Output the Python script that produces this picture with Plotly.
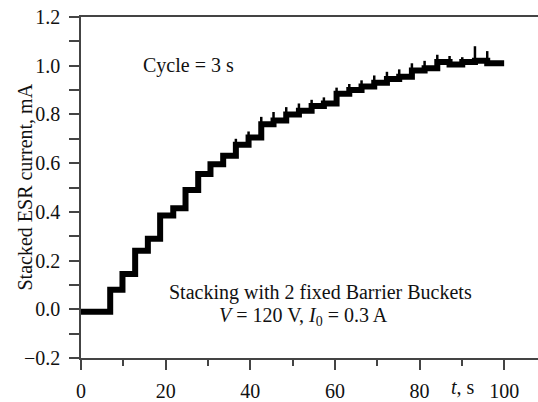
import plotly.graph_objects as go

# Step start times (s) and stacked current levels (mA)
step_t = [0, 6.9, 9.8, 12.8, 15.8, 18.7, 21.8, 24.7, 27.7, 30.6, 33.6, 36.6, 39.6,
          42.6, 45.5, 48.5, 51.5, 54.5, 57.4, 60.4, 63.4, 66.3, 69.3, 72.3, 75.2,
          78.2, 81.2, 84.2, 87.1, 90.1, 93.1, 96.0, 100.0]
step_i = [-0.01, 0.08, 0.145, 0.24, 0.29, 0.385, 0.415, 0.49, 0.555, 0.595, 0.63, 0.675, 0.705,
          0.76, 0.775, 0.80, 0.815, 0.835, 0.845, 0.885, 0.90, 0.915, 0.93, 0.945, 0.955,
          0.98, 0.99, 1.015, 1.005, 1.015, 1.02, 1.01, 1.01]

# Spikes at injection instants: time and peak value (mA)
spike_t = [36.6, 39.6, 42.6, 45.5, 48.5, 51.5, 54.5, 57.4, 60.4, 63.4, 66.3, 69.3,
           72.3, 75.2, 78.2, 81.2, 84.2, 87.1, 90.1, 93.1, 96.0]
spike_i = [0.70, 0.73, 0.79, 0.81, 0.83, 0.845, 0.86, 0.87, 0.91, 0.925, 0.94, 0.96,
           0.975, 0.985, 1.01, 1.02, 1.045, 1.04, 1.035, 1.08, 1.06]

x_ticks = [0, 20, 40, 60, 80, 100]
y_ticks = [-0.2, 0.0, 0.2, 0.4, 0.6, 0.8, 1.0, 1.2]

FONT = "Liberation Serif"
TXT = "#111111"
AX = "#444444"

fig = go.Figure()
fig.add_trace(go.Scatter(x=step_t, y=step_i, mode="lines", line=dict(color="black", width=6, shape="hv"),
                         hoverinfo="skip", showlegend=False))
sx, sy = [], []
for t, p in zip(spike_t, spike_i):
    lvl = step_i[step_t.index(t)]
    sx += [t, t, None]
    sy += [lvl, p, None]
fig.add_trace(go.Scatter(x=sx, y=sy, mode="lines", line=dict(color="black", width=2.5),
                         hoverinfo="skip", showlegend=False))

fig.update_layout(
    width=538, height=402,
    margin=dict(l=81, r=0, t=17, b=44),
    plot_bgcolor="white", paper_bgcolor="white",
    font=dict(family=FONT, size=20, color=TXT),
    xaxis=dict(range=[0, 108.0], tickvals=x_ticks, ticks="outside", ticklen=10, tickwidth=1.5,
               tickcolor=AX, showline=True, linecolor=AX, linewidth=1.5, mirror=True,
               showgrid=False, zeroline=False, ticklabelstandoff=4,
               minor=dict(tickvals=[10, 30, 50, 70, 90], ticks="outside", ticklen=6,
                          tickwidth=1.5, tickcolor=AX)),
    yaxis=dict(range=[-0.2, 1.2], tickvals=y_ticks, tickformat=".1f", ticks="outside", ticklen=10,
               tickwidth=1.5, tickcolor=AX, showline=True, linecolor=AX, linewidth=1.5,
               showgrid=False, zeroline=False, ticklabelstandoff=5,
               minor=dict(tickvals=[-0.1, 0.1, 0.3, 0.5, 0.7, 0.9, 1.1], ticks="outside",
                          ticklen=10, tickwidth=1.5, tickcolor=AX)),
)

ann = dict(showarrow=False, font=dict(family=FONT, size=20, color=TXT))
fig.add_annotation(text="Stacked ESR current, mA", textangle=-90, xref="paper", yref="paper",
                   x=-0.1247, y=0.5, xanchor="center", yanchor="middle", **ann)
fig.add_annotation(text="<i>t</i>, s", xref="x", yref="paper", x=90.3, y=-0.085,
                   xanchor="center", yanchor="middle", **ann)
fig.add_annotation(text="Cycle = 3 s", xref="x", yref="y", x=25.3, y=1.0,
                   xanchor="center", yanchor="middle", **ann)
fig.add_annotation(text="Stacking with 2 fixed Barrier Buckets", xref="x", yref="y", x=56.5, y=0.067,
                   xanchor="center", yanchor="middle", **ann)
fig.add_annotation(text="<i>V</i> = 120 V, <i>I</i><sub>0</sub> = 0.3 A", xref="x", yref="y",
                   x=52.6, y=-0.028, xanchor="center", yanchor="middle", **ann)

fig.write_html("out.html")
